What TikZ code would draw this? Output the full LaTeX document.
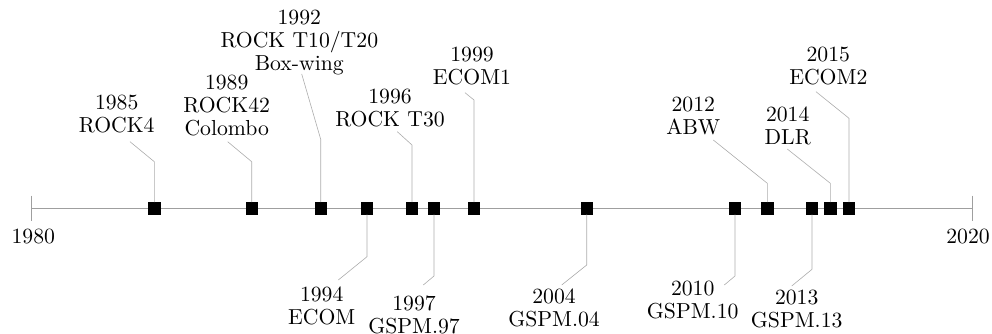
\documentclass[tikz,border=0pt]{standalone}
\usepackage{graphicx}
\newcommand{\labtext}[1]{\scalebox{2.17}{\fontsize{10}{10.6}\selectfont\begin{tabular}{@{}c@{}}#1\end{tabular}}}
\begin{document}
\begin{tikzpicture}[x=1pt,y=-1pt,
  axisline/.style={draw=gray!75,line width=0.8pt},
  leader/.style={draw=gray!65,line width=0.6pt},
  marker/.style={fill=black,draw=none,minimum size=12.4pt,inner sep=0pt,outer sep=0pt},
  lbl/.style={inner sep=0pt,outer sep=0pt}]
\useasboundingbox (0,0) rectangle (992,334);
% axis
\coordinate (a0) at (31.3,208.3);
\coordinate (a1) at (972.7,208.3);
\coordinate (t0a) at (31.3,195.5); \coordinate (t0b) at (31.3,221);
\coordinate (t1a) at (972.7,195.5); \coordinate (t1b) at (972.7,221);
\draw[axisline] (a0) -- (a1);
\draw[axisline] (t0a) -- (t0b);
\draw[axisline] (t1a) -- (t1b);
\node[lbl] (y1980) at (33.3,239.3) {\labtext{1980}};
\node[lbl] (y2020) at (968,239.3) {\labtext{2020}};
% markers, bends, ends
\foreach \n/\mx/\by/\ex/\ey in {
  1985/154.3/161.7/130/141.7,
  1989/251.7/161.7/227.7/141.7,
  1992/320.7/139.3/301.7/74,
  1996/412/145/397.3/131.7,
  1999/474/100/465/92.7,
  2012/767.3/183.3/713.3/140,
  2014/830.3/183.3/787.3/149,
  2015/849/118.3/816/91.7}{
  \node[marker] (m\n) at (\mx,208.3) {};
  \coordinate (b\n) at (\mx,\by);
  \coordinate (e\n) at (\ex,\ey);
  \draw[leader] (m\n.north) -- (b\n) -- (e\n);
}
\foreach \n/\mx/\by/\ex/\ey in {
  1994/367/256.7/338.3/280,
  1997/434/276/423.3/285,
  2004/586.7/265/561.7/285,
  2010/735/276/724.3/285,
  2013/812/269.3/791.7/286}{
  \node[marker] (m\n) at (\mx,208.3) {};
  \coordinate (b\n) at (\mx,\by);
  \coordinate (e\n) at (\ex,\ey);
  \draw[leader] (m\n.south) -- (b\n) -- (e\n);
}
% labels above
\node[lbl] (l1985) at (116.7,116.6) {\labtext{1985\\ROCK4}};
\node[lbl] (l1989) at (226.7,108.3) {\labtext{1989\\ROCK42\\Colombo}};
\node[lbl] (l1992) at (299.3,42.5) {\labtext{1992\\ROCK T10/T20\\Box-wing}};
\node[lbl] (l1996) at (390,110.3) {\labtext{1996\\ROCK T30}};
\node[lbl] (l1999) at (472,68.6) {\labtext{1999\\ECOM1}};
\node[lbl] (l2012) at (693.3,118.6) {\labtext{2012\\ABW}};
\node[lbl] (l2014) at (787.7,128.3) {\labtext{2014\\DLR}};
\node[lbl] (l2015) at (828.3,68.1) {\labtext{2015\\ECOM2}};
% labels below
\node[lbl] (l1994) at (321.7,308.6) {\labtext{1994\\ECOM}};
\node[lbl] (l1997) at (414,317.8) {\labtext{1997\\GSPM.97}};
\node[lbl] (l2004) at (554,310.3) {\labtext{2004\\GSPM.04}};
\node[lbl] (l2010) at (692.7,302.8) {\labtext{2010\\GSPM.10}};
\node[lbl] (l2013) at (796.7,311.8) {\labtext{2013\\GSPM.13}};
\end{tikzpicture}
\end{document}
